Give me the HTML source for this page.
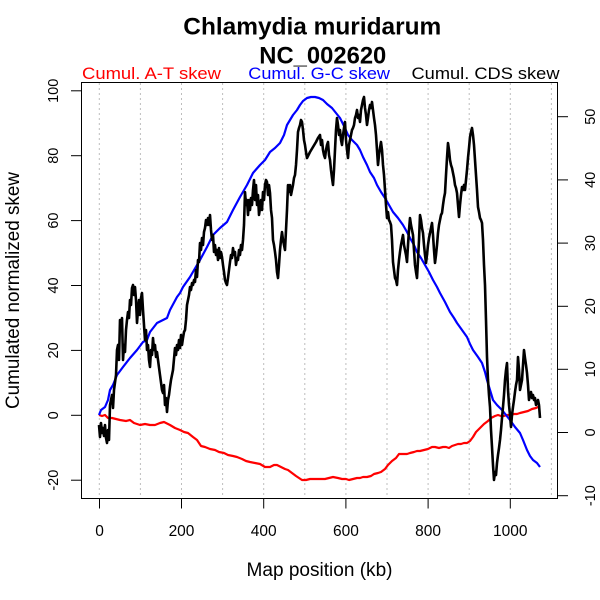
<!DOCTYPE html>
<html><head><meta charset="utf-8"><style>
html,body{margin:0;padding:0;background:#fff;}
svg{display:block;}
text{font-family:"Liberation Sans",Arial,sans-serif;}
</style></head><body>
<svg width="600" height="600" viewBox="0 0 600 600" xmlns="http://www.w3.org/2000/svg">
<rect width="600" height="600" fill="#fff"/>
<!-- grid -->
<g stroke="#bdbdbd" stroke-width="1" stroke-dasharray="2,3">
<line x1="99.3" y1="83" x2="99.3" y2="498"/>
<line x1="140.4" y1="83" x2="140.4" y2="498"/>
<line x1="181.5" y1="83" x2="181.5" y2="498"/>
<line x1="222.6" y1="83" x2="222.6" y2="498"/>
<line x1="263.7" y1="83" x2="263.7" y2="498"/>
<line x1="304.8" y1="83" x2="304.8" y2="498"/>
<line x1="345.9" y1="83" x2="345.9" y2="498"/>
<line x1="387" y1="83" x2="387" y2="498"/>
<line x1="428.1" y1="83" x2="428.1" y2="498"/>
<line x1="469.2" y1="83" x2="469.2" y2="498"/>
<line x1="510.3" y1="83" x2="510.3" y2="498"/>
<line x1="551.4" y1="83" x2="551.4" y2="498"/>
</g>
<!-- red A-T -->
<polyline fill="none" stroke="#ff0000" stroke-width="2.2" stroke-linejoin="round" points="99,415 102,416 105,415 108,418 112,418 116,419 120,420 126,421 130,420 134,423 140,425 145,424 150,425 155,425 160,423 164,422 166,423 170,425 175,428 180,430 184,432 188,433 193,437 197,440 201,446 205,447 210,449 215,450 219,452 224,453 228,455 233,456 237,457 242,459 246,461 250,462 255,463 260,464 265,467 270,467 274,465 277,465 281,467 285,469 288,470 292,473 296,476 299,478 302,480 306,480 310,479 315,479 320,479 325,479 329,478 333,477 338,478 342,479 346,479 349,480 353,479 357,478 360,478 363,477 367,477 371,476 374,474 378,473 381,472 385,469 388,465 392,461 396,458 399,454 403,454 407,454 410,453 414,452 417,451 420,451 424,450 428,449 432,447 435,447 439,448 443,447 446,447 449,448 452,446 455,445 458,444 461,444 464,443 467,443 470,441 473,437 476,432 480,428 484,424 488,421 491,418 495,416 498,415 501,416 504,416 507,415 510,415 514,414 517,414 520,413 524,412 528,411 532,409 536,408 540,406"/>
<!-- blue G-C -->
<polyline fill="none" stroke="#0000ff" stroke-width="2.2" stroke-linejoin="round" points="99,415 101,410 105,407 108,400 110,390 113,385 117,375 123,367 130,358 137,350 143,342 147,340 150,332 157,323 163,320 167,318 170,310 177,297 180,293 183,287 190,277 197,265 200,260 207,247 213,235 220,228 227,222 233,210 240,197 247,185 253,173 260,165 265,160 270,152 275,148 280,143 284,135 287,125 290,120 293,115 297,110 300,105 303,101 307,98 311,97 315,97 319,98 323,100 327,104 332,108 336,113 340,118 344,126 348,135 352,140 357,145 360,150 363,157 367,165 370,172 374,178 377,185 381,192 385,198 389,205 393,212 398,218 403,225 407,232 410,238 414,245 417,252 421,258 425,265 429,272 433,280 437,287 440,293 445,302 450,312 454,318 457,323 462,330 467,337 470,344 473,350 478,357 482,363 485,372 487,380 490,390 493,400 497,405 502,410 506,415 510,420 515,427 520,433 523,440 527,450 530,456 533,460 537,463 540,467"/>
<!-- black CDS -->
<polyline fill="none" stroke="#000" stroke-width="2.6" stroke-linejoin="round" points="99,425 100,437 101,423 102,433 103,428 104,436 105,425 106,438 107,443 108,430 109,440 110,405 112,395 113,408 114,390 116,375 117,350 118,345 119,360 120,320 121,330 122,318 123,360 124,345 125,352 126,330 127,320 128,312 129,318 130,300 131,305 132,288 133,285 134,295 135,287 136,300 137,323 138,310 139,300 140,315 141,298 142,293 143,310 144,325 145,340 146,330 147,350 148,345 149,360 150,367 151,350 152,355 153,338 154,350 155,345 156,357 157,352 158,360 160,375 162,390 163,393 164,385 165,405 166,398 167,412 168,400 169,395 170,387 171,380 172,375 173,370 175,348 176,355 177,345 178,350 179,340 180,348 181,335 182,345 183,338 184,332 185,330 186,320 187,305 188,300 189,295 190,287 191,290 192,283 193,285 194,280 195,282 196,270 197,277 198,260 199,262 200,243 201,250 202,238 203,245 204,232 205,228 206,220 207,225 208,218 209,225 210,215 211,230 212,240 213,235 214,252 215,245 216,255 217,250 218,260 219,248 220,258 221,252 222,257 223,265 224,272 225,280 226,283 227,285 228,278 229,270 230,262 231,255 232,258 233,248 234,255 235,252 236,265 237,258 238,260 239,250 240,255 241,245 242,250 243,240 244,225 245,192 246,205 247,200 248,215 249,200 250,210 251,198 252,205 253,190 254,180 255,200 256,185 257,205 258,195 259,215 260,208 261,200 262,210 263,192 264,200 265,185 266,180 267,182 268,195 269,185 270,193 271,210 272,218 273,240 274,245 275,252 276,260 277,272 278,278 279,265 280,250 281,240 282,232 283,240 284,245 285,250 286,230 287,210 288,185 289,192 290,185 291,195 292,190 293,185 294,178 295,175 296,165 297,150 298,132 299,128 300,125 301,120 302,122 303,130 304,140 305,145 306,152 307,158 310,152 313,147 316,142 318,138 320,135 321,145 322,140 323,150 324,155 325,158 326,150 327,145 328,142 329,155 330,160 331,170 332,178 333,185 334,170 335,150 336,130 337,118 338,125 339,135 340,130 341,140 342,145 343,135 344,128 345,122 346,140 347,150 348,158 349,145 350,140 351,135 352,130 353,128 354,125 355,118 356,115 357,110 358,118 359,115 360,122 361,110 362,105 363,100 364,97 365,108 366,115 367,125 368,118 369,110 370,105 371,108 372,102 373,110 374,118 375,125 376,135 377,150 378,165 379,155 380,148 381,142 382,150 383,165 384,175 385,190 386,205 387,218 388,212 389,220 390,222 391,225 392,240 393,262 394,270 395,278 396,280 397,285 398,270 399,260 400,252 401,245 402,240 403,235 404,245 405,250 406,255 407,262 408,245 409,230 410,218 411,225 412,230 413,235 414,250 415,265 416,272 417,278 418,260 419,240 420,215 421,220 422,228 423,233 424,245 425,255 426,263 427,255 428,245 429,238 430,233 431,228 432,223 433,235 434,250 435,263 436,255 437,245 438,233 439,225 440,220 441,215 442,213 443,205 444,198 445,193 446,175 447,158 448,143 449,150 450,160 451,165 452,168 453,173 454,178 455,185 456,188 457,193 458,205 459,217 460,205 461,195 462,187 463,190 464,185 465,190 466,180 467,170 468,158 469,148 470,137 471,132 472,128 473,135 474,145 475,160 476,175 477,190 478,207 479,212 480,218 481,220 482,223 483,240 484,265 485,285 486,320 487,357 488,380 489,395 490,407 491,430 492,447 493,465 494,480 495,472 496,475 497,463 498,455 499,448 500,440 501,430 502,418 503,407 504,395 505,380 506,370 507,363 508,390 509,405 510,415 511,427 512,415 513,407 514,400 515,392 516,385 517,380 518,357 519,370 520,390 521,385 522,380 523,365 524,350 525,358 526,365 527,373 528,385 529,400 530,395 531,392 532,398 533,395 534,400 535,398 536,405 537,403 538,400 539,405 540,418"/>
<!-- box -->
<rect x="81.5" y="82.5" width="476" height="416" fill="none" stroke="#000" stroke-width="1"/>
<g stroke="#000" stroke-width="1">
<!-- left ticks -->
<line x1="71" y1="90.8" x2="81.5" y2="90.8"/>
<line x1="71" y1="155.7" x2="81.5" y2="155.7"/>
<line x1="71" y1="220.6" x2="81.5" y2="220.6"/>
<line x1="71" y1="285.5" x2="81.5" y2="285.5"/>
<line x1="71" y1="350.4" x2="81.5" y2="350.4"/>
<line x1="71" y1="415.3" x2="81.5" y2="415.3"/>
<line x1="71" y1="480.2" x2="81.5" y2="480.2"/>
<!-- right ticks -->
<line x1="557.5" y1="116.7" x2="568" y2="116.7"/>
<line x1="557.5" y1="179.9" x2="568" y2="179.9"/>
<line x1="557.5" y1="243.1" x2="568" y2="243.1"/>
<line x1="557.5" y1="306.3" x2="568" y2="306.3"/>
<line x1="557.5" y1="369.3" x2="568" y2="369.3"/>
<line x1="557.5" y1="432.5" x2="568" y2="432.5"/>
<line x1="557.5" y1="495.7" x2="568" y2="495.7"/>
<!-- x ticks -->
<line x1="99.5" y1="498.5" x2="99.5" y2="508.5"/>
<line x1="181.5" y1="498.5" x2="181.5" y2="508.5"/>
<line x1="263.7" y1="498.5" x2="263.7" y2="508.5"/>
<line x1="345.9" y1="498.5" x2="345.9" y2="508.5"/>
<line x1="428.1" y1="498.5" x2="428.1" y2="508.5"/>
<line x1="510.3" y1="498.5" x2="510.3" y2="508.5"/>
</g>
<!-- x tick labels -->
<g font-size="15.5" fill="#000" text-anchor="middle">
<text x="99.5" y="536">0</text>
<text x="181.5" y="536">200</text>
<text x="263.7" y="536">400</text>
<text x="345.9" y="536">600</text>
<text x="428.1" y="536">800</text>
<text x="510.3" y="536">1000</text>
</g>
<!-- left tick labels -->
<g font-size="14.5" fill="#000" text-anchor="middle">
<text transform="translate(58,90.8) rotate(-90)">100</text>
<text transform="translate(58,155.7) rotate(-90)">80</text>
<text transform="translate(58,220.6) rotate(-90)">60</text>
<text transform="translate(58,285.5) rotate(-90)">40</text>
<text transform="translate(58,350.4) rotate(-90)">20</text>
<text transform="translate(58,415.3) rotate(-90)">0</text>
<text transform="translate(58,480.2) rotate(-90)">-20</text>
</g>
<!-- right tick labels -->
<g font-size="14.5" fill="#000" text-anchor="middle">
<text transform="translate(595,116.7) rotate(-90)">50</text>
<text transform="translate(595,179.9) rotate(-90)">40</text>
<text transform="translate(595,243.1) rotate(-90)">30</text>
<text transform="translate(595,306.3) rotate(-90)">20</text>
<text transform="translate(595,369.3) rotate(-90)">10</text>
<text transform="translate(595,432.5) rotate(-90)">0</text>
<text transform="translate(595,495.7) rotate(-90)">-10</text>
</g>
<!-- axis titles -->
<text x="319.5" y="576" font-size="19" text-anchor="middle" textLength="146" lengthAdjust="spacingAndGlyphs">Map position (kb)</text>
<text transform="translate(19,290.5) rotate(-90)" font-size="19" text-anchor="middle" textLength="237" lengthAdjust="spacingAndGlyphs">Cumulated normalized skew</text>
<!-- title -->
<text x="183.3" y="34.3" font-size="24" font-weight="bold" textLength="258" lengthAdjust="spacingAndGlyphs">Chlamydia muridarum</text>
<text x="259.3" y="63.3" font-size="24" font-weight="bold" textLength="127" lengthAdjust="spacingAndGlyphs">NC_002620</text>
<!-- legend -->
<text x="82" y="79" font-size="17" fill="#ff0000" textLength="139" lengthAdjust="spacingAndGlyphs">Cumul. A-T skew</text>
<text x="248.3" y="79" font-size="17" fill="#0000ff" textLength="141.7" lengthAdjust="spacingAndGlyphs">Cumul. G-C skew</text>
<text x="411.5" y="79" font-size="17" fill="#000" textLength="148" lengthAdjust="spacingAndGlyphs">Cumul. CDS skew</text>
</svg>
</body></html>
